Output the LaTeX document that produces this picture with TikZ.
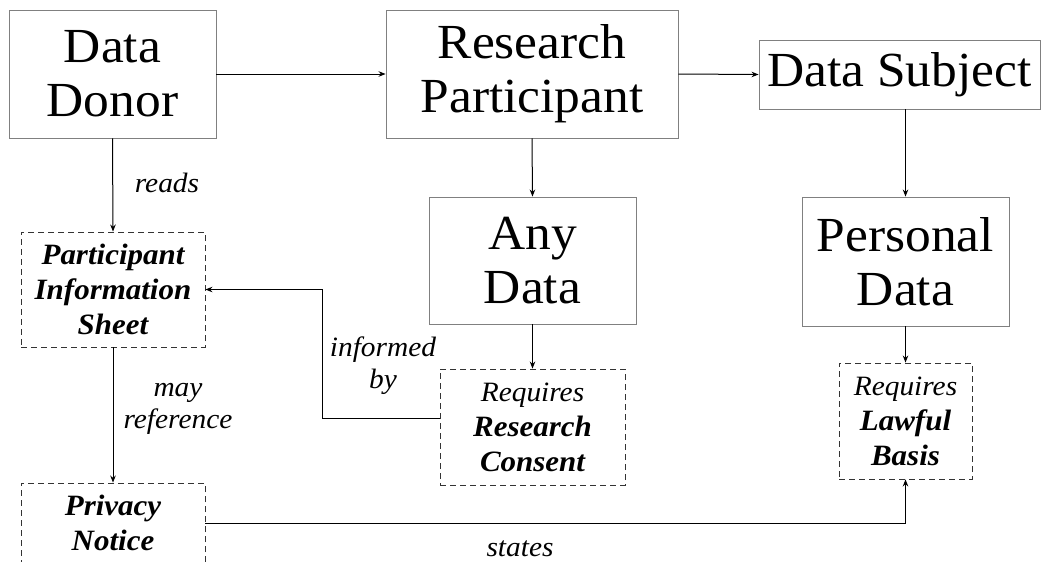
\documentclass[tikz,border=0pt]{standalone}
\usepackage{fontspec}
\setmainfont{Liberation Serif}[FakeStretch=1.05]
\usetikzlibrary{arrows.meta}
\newcommand\bxi{\bfseries\fontsize{29.5}{35}\selectfont}
\begin{document}
\begin{tikzpicture}[x=1pt,y=-1pt,
  bigbox/.style={draw=black!50, line width=0.9pt, align=center, inner sep=0pt,
    font=\fontsize{49}{54}\selectfont},
  dbox/.style={draw=black!80, line width=0.9pt, dash pattern=on 6pt off 4pt, align=center, inner sep=0pt,
    font=\fontsize{28}{35}\selectfont\itshape},
  lbl/.style={align=center, inner sep=0pt, font=\fontsize{28}{32}\selectfont\itshape},
  arr/.style={draw=black, line width=1pt, -{Stealth[length=7pt,width=5.5pt]}}]
\useasboundingbox (0,0) rectangle (1042,562);
\fill[white] (0,0) rectangle (1042,562);
\node[bigbox, minimum width=207pt, minimum height=128pt] (DD) at (112.5,74) {Data\\Donor};
\node[bigbox, minimum width=292pt, minimum height=128pt] (RP) at (532,74) {Research\\Participant};
\node[bigbox, minimum width=281pt, minimum height=69pt] (DS) at (899.5,74.5) {Data Subject};
\node[bigbox, minimum width=207pt, minimum height=127pt] (AD) at (532.5,260.5) {Any\\Data};
\node[bigbox, minimum width=207pt, minimum height=129pt] (PD) at (905.5,261.5) {Personal\\Data};
\node[dbox, minimum width=184pt, minimum height=115pt] (PIS) at (113,289.5) {\bxi Participant\\\bxi Information\\\bxi Sheet};
\node[dbox, minimum width=185pt, minimum height=116pt] (RRC) at (532.5,427) {Requires\\\bxi Research\\\bxi Consent};
\node[dbox, minimum width=133pt, minimum height=116pt] (RLB) at (905.5,421) {Requires\\\bxi Lawful\\\bxi Basis};
\node[dbox, minimum width=184pt, minimum height=115pt] (PN) at (113,540.5) {\bxi Privacy\\\bxi Notice\\\phantom{X}};
\draw[arr] (DD.east) -- (RP.west);
\draw[arr] (RP.east) -- (DS.west);
\draw[arr] (DD.south) -- (PIS.north);
\draw[arr] (RP.south) -- (AD.north);
\draw[arr] (PD.north |- DS.south) -- (PD.north);
\draw[arr] (AD.south) -- (RRC.north);
\draw[arr] (PD.south) -- (RLB.north);
\draw[arr] (PIS.south) -- (PN.north);
\draw[arr] ([yshift=9pt]RRC.west) -- ++(-117,0) |- (PIS.east);
\draw[arr] ([yshift=17.5pt]PN.east) -| (RLB.south);
\node[lbl] (Lreads) at (167,183) {reads};
\node[lbl] (Lmay) at (178,409) {may\\reference};
\node[lbl] (Linf) at (383,366) {informed\\by};
\node[lbl] (Lstates) at (520,549) {states};
\end{tikzpicture}
\end{document}
